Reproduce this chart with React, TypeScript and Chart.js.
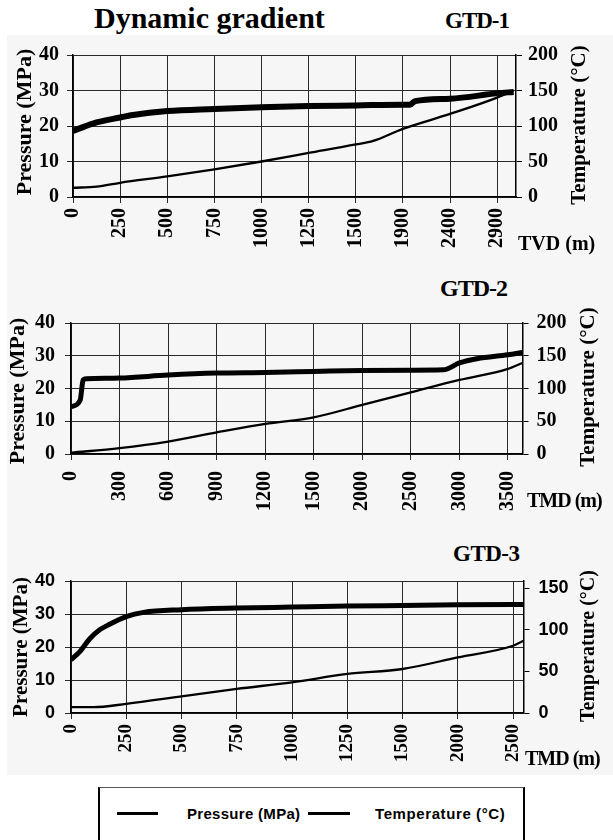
import React, { useEffect, useRef } from "react";
import { Chart, registerables } from "chart.js";

Chart.register(...registerables);

// ---------- DATA ----------
// GTD-1 (x: TVD, m)
const gtd1Labels = [0, 250, 500, 750, 1000, 1250, 1500, 1900, 2400, 2900];
const gtd1PressureDepth = [0, 105, 250, 318, 500, 750, 1000, 1250, 1500, 1900, 1975, 2030, 2400, 2900, 3075];
const gtd1Pressure = [18.6, 20.7, 22.4, 23.1, 24.2, 24.8, 25.3, 25.6, 25.8, 26.0, 26.0, 27.0, 27.7, 29.2, 29.6];
const gtd1TempDepth = [0, 125, 250, 500, 750, 1000, 1250, 1500, 1648, 1900, 2400, 2900, 3075];
const gtd1Temp = [13, 14.5, 20, 29, 39, 50, 62, 74, 79, 96, 117, 140, 150];

// GTD-2 (x: TMD, m)
const gtd2Labels = [0, 300, 600, 900, 1200, 1500, 2000, 2500, 3000, 3500];
const gtd2PressureDepth = [0, 57, 75, 96, 300, 600, 900, 1200, 1500, 2000, 2500, 2835, 3000, 3180, 3500, 3650];
const gtd2Pressure = [14.4, 16.5, 22.6, 23.0, 23.2, 24.1, 24.7, 24.9, 25.2, 25.5, 25.6, 25.7, 27.8, 29.1, 30.3, 31.0];
const gtd2TempDepth = [0, 300, 600, 900, 1200, 1500, 2000, 2500, 3000, 3500, 3650];
const gtd2Temp = [2, 9, 19, 33, 46, 56, 75, 94, 113, 130, 139];

// GTD-3 (x: TMD, m)
const gtd3Labels = [0, 250, 500, 750, 1000, 1250, 1500, 2000, 2500];
const gtd3PressureDepth = [0, 40, 85, 130, 175, 250, 328, 500, 750, 1000, 1250, 1500, 2000, 2500, 2595];
const gtd3Pressure = [16.1, 18.6, 22.5, 25.2, 26.9, 29.2, 30.5, 31.3, 31.8, 32.1, 32.4, 32.6, 32.8, 32.9, 32.9];
const gtd3TempDepth = [0, 100, 250, 500, 750, 1000, 1250, 1500, 2000, 2500, 2595];
const gtd3Temp = [7, 7, 11, 20, 29, 37, 47, 53, 67, 81, 87];

// ---------- HELPERS ----------
// The depth axis of the original plots is evenly spaced by label, so depths
// are placed piecewise-linearly between the tick labels.
function toIdx(labels: number[], d: number): number {
  const n = labels.length;
  for (let i = 0; i < n - 1; i++) {
    if (d <= labels[i + 1]) {
      return i + (d - labels[i]) / (labels[i + 1] - labels[i]);
    }
  }
  const last = labels[n - 1] - labels[n - 2];
  return n - 1 + (d - labels[n - 1]) / last;
}

const SERIF = "'Liberation Serif', 'Times New Roman', serif";
const SANS = "'Liberation Sans', Arial, sans-serif";

type Cfg = {
  top: number;
  h: number;
  padTop: number;
  leftW: number;
  rightW: number;
  xH: number;
  xMax: number;
  tMax: number;
  labels: number[];
  pDepth: number[];
  p: number[];
  tDepth: number[];
  t: number[];
  pWidth: number;
  yFont: { family: string; size: number; weight: string };
  xFont: { family: string; size: number; weight: string };
  yPad: number;
  y1Pad: number;
  xPad: number;
};

function DepthChart({ cfg }: { cfg: Cfg }) {
  const ref = useRef<HTMLCanvasElement>(null);
  useEffect(() => {
    const labels = cfg.labels;
    const chart = new Chart(ref.current as HTMLCanvasElement, {
      type: "line",
      data: {
        datasets: [
          {
            label: "Pressure (MPa)",
            data: cfg.pDepth.map((d, i) => ({ x: toIdx(labels, d), y: cfg.p[i] })),
            borderColor: "#000",
            borderWidth: cfg.pWidth,
            pointRadius: 0,
            cubicInterpolationMode: "monotone",
            yAxisID: "y",
          },
          {
            label: "Temperature (°C)",
            data: cfg.tDepth.map((d, i) => ({ x: toIdx(labels, d), y: cfg.t[i] })),
            borderColor: "#000",
            borderWidth: 2.3,
            pointRadius: 0,
            cubicInterpolationMode: "monotone",
            yAxisID: "y1",
          },
        ],
      },
      options: {
        animation: false,
        responsive: false,
        maintainAspectRatio: false,
        layout: { padding: { top: cfg.padTop, left: 0, right: 0, bottom: 0 } },
        plugins: { legend: { display: false }, tooltip: { enabled: false } },
        scales: {
          x: {
            type: "linear",
            min: 0,
            max: cfg.xMax,
            afterBuildTicks: (s: any) => {
              s.ticks = labels.map((_, i) => ({ value: i }));
            },
            afterFit: (s: any) => {
              s.height = cfg.xH;
              s.paddingLeft = 0;
              s.paddingRight = 0;
            },
            ticks: {
              autoSkip: false,
              minRotation: 90,
              maxRotation: 90,
              padding: cfg.xPad,
              color: "#000",
              font: cfg.xFont as any,
              callback: (v: any) => String(labels[v as number] ?? ""),
            },
            grid: { color: "#2a2a2a", lineWidth: 1, tickLength: 6 },
            border: { color: "#000", width: 1.5 },
          },
          y: {
            position: "left",
            min: 0,
            max: 40,
            afterFit: (s: any) => {
              s.width = cfg.leftW;
              s.paddingTop = 0;
              s.paddingBottom = 0;
            },
            ticks: { stepSize: 10, padding: cfg.yPad, color: "#000", font: cfg.yFont as any },
            grid: { color: "#2a2a2a", lineWidth: 1, tickLength: 6 },
            border: { color: "#000", width: 1.5 },
          },
          y1: {
            position: "right",
            min: 0,
            max: cfg.tMax,
            afterFit: (s: any) => {
              s.width = cfg.rightW;
              s.paddingTop = 0;
              s.paddingBottom = 0;
            },
            ticks: {
              stepSize: 50,
              includeBounds: false,
              padding: cfg.y1Pad,
              color: "#000",
              font: cfg.yFont as any,
            },
            grid: { drawOnChartArea: false, color: "#000", lineWidth: 1, tickLength: 6 },
            border: { color: "#000", width: 1.5 },
          },
        },
      },
    } as any);
    return () => chart.destroy();
  }, []);
  return (
    <canvas
      ref={ref}
      width={613}
      height={cfg.h}
      style={{ position: "absolute", left: 0, top: cfg.top, width: 613, height: cfg.h }}
    />
  );
}

function Text({
  x,
  y,
  size,
  family = SERIF,
  rotate = false,
  spacing = 0,
  children,
}: {
  x: number;
  y: number;
  size: number;
  family?: string;
  rotate?: boolean;
  spacing?: number;
  children: React.ReactNode;
}) {
  return (
    <div
      style={{
        position: "absolute",
        left: x,
        top: y,
        transform: rotate ? "translate(-50%,-50%) rotate(-90deg)" : "translate(0,-50%)",
        fontFamily: family,
        fontWeight: "bold",
        fontSize: size,
        lineHeight: 1,
        whiteSpace: "nowrap",
        letterSpacing: spacing,
        color: "#000",
      }}
    >
      {children}
    </div>
  );
}

const serifTick = { family: SERIF, size: 20, weight: "bold" };
const sansTick = { family: SANS, size: 18, weight: "bold" };

const cfg1: Cfg = {
  top: 35, h: 235, padTop: 20, leftW: 73, rightW: 97, xH: 73, xMax: 9.4, tMax: 200,
  labels: gtd1Labels, pDepth: gtd1PressureDepth, p: gtd1Pressure, tDepth: gtd1TempDepth, t: gtd1Temp,
  pWidth: 6, yFont: serifTick, xFont: serifTick, yPad: 8, y1Pad: 6, xPad: 5,
};
const cfg2: Cfg = {
  top: 300, h: 220, padTop: 23, leftW: 71, rightW: 90.5, xH: 66, xMax: 9.3, tMax: 200,
  labels: gtd2Labels, pDepth: gtd2PressureDepth, p: gtd2Pressure, tDepth: gtd2TempDepth, t: gtd2Temp,
  pWidth: 5, yFont: serifTick, xFont: serifTick, yPad: 10, y1Pad: 8, xPad: 11,
};
const cfg3: Cfg = {
  top: 565, h: 210, padTop: 16, leftW: 71, rightW: 89.5, xH: 62, xMax: 8.19, tMax: 159,
  labels: gtd3Labels, pDepth: gtd3PressureDepth, p: gtd3Pressure, tDepth: gtd3TempDepth, t: gtd3Temp,
  pWidth: 5, yFont: sansTick, xFont: { family: SERIF, size: 19, weight: "bold" }, yPad: 10, y1Pad: 9, xPad: 5,
};

export default function App() {
  return (
    <div
      style={{
        position: "absolute",
        left: 0,
        top: 0,
        width: 613,
        height: 840,
        overflow: "hidden",
        background: "#fff",
      }}
    >
      <div style={{ position: "absolute", left: 7, top: 35, width: 606, height: 740, background: "#f6f6f6" }} />

      <Text x={94} y={18} size={30}>Dynamic gradient</Text>
      <Text x={445} y={20} size={23} spacing={-1}>GTD-1</Text>
      <Text x={440} y={288} size={24} spacing={-1}>GTD-2</Text>
      <Text x={453} y={553} size={23} spacing={-0.5}>GTD-3</Text>

      <DepthChart cfg={cfg1} />
      <DepthChart cfg={cfg2} />
      <DepthChart cfg={cfg3} />

      <Text x={24} y={122} size={22} rotate>Pressure (MPa)</Text>
      <Text x={578} y={125} size={21} rotate>Temperature (°C)</Text>
      <Text x={518} y={243} size={20}>TVD (m)</Text>

      <Text x={17} y={391} size={22} rotate>Pressure (MPa)</Text>
      <Text x={587} y={387} size={21} rotate>Temperature (°C)</Text>
      <Text x={527} y={500} size={20} spacing={-1}>TMD (m)</Text>

      <Text x={20} y={647} size={21} rotate>Pressure (MPa)</Text>
      <Text x={587} y={646} size={20} rotate>Temperature (°C)</Text>
      <Text x={525} y={758} size={20} spacing={-1}>TMD (m)</Text>

      <div
        style={{
          position: "absolute",
          left: 98,
          top: 787,
          width: 423,
          height: 60,
          borderTop: "1.5px solid #555",
          borderLeft: "2px solid #000",
          borderRight: "2px solid #000",
        }}
      />
      <div style={{ position: "absolute", left: 117, top: 812, width: 41, height: 2.5, background: "#000" }} />
      <Text x={187} y={813} size={15} family={SANS} spacing={0.3}>Pressure (MPa)</Text>
      <div style={{ position: "absolute", left: 308, top: 812, width: 42, height: 2.5, background: "#000" }} />
      <Text x={375} y={813} size={15} family={SANS} spacing={0.6}>Temperature (°C)</Text>
    </div>
  );
}
